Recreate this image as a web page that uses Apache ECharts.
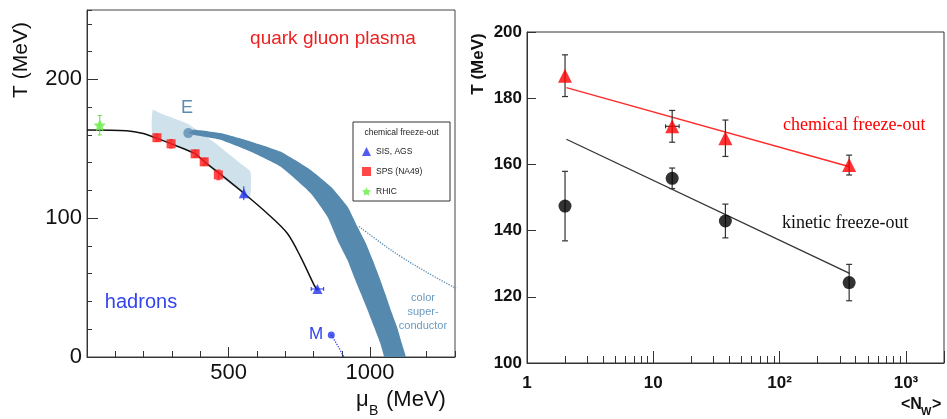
<!DOCTYPE html>
<html><head><meta charset="utf-8">
<script src="https://cdn.jsdelivr.net/npm/echarts@6/dist/echarts.min.js"></script>
<style>html,body{margin:0;padding:0;background:#fff}#c{width:947px;height:419px}</style>
</head><body><div id="c"></div>
<script>
// ---------- Left panel (phase diagram) ----------
const curveMu = [0,140,199,245,296,381,413,465,554,636,708,755,802,814];
const curveT  = [163.5,163,161,157.7,153.7,146.5,141,132.7,118,103.6,89,72,52,48];
const spsMu = [247,297,382,414,464];
const spsT  = [158,153.6,146.4,140.6,131.2];
const spsErr = [2.5,3,2.5,2.5,3.5];
const sisMu = [554,814];
const sisT  = [118,49];
const sisTErr = [5,1];
const sisMuErr = [0,22];
const rhicMu = [45];
const rhicT  = [167];
const rhicErr = [7];
const shadeMu = [232,258,352,447,541,577,577,554,465,381,296,232];
const shadeT  = [178,175.7,168.4,155,139.6,133.6,115.6,118,131,146,154,159];
const bandOuterMu = [358,375,471,577,683,790,861,920,955,985,1009,1032,1053,1073,1095,1112,1127,1140];
const bandOuterT  = [161.3,163.7,161.3,155.3,148,134.8,122.8,108.4,94,82,70,57.9,45.9,33.9,21.8,9.9,0,-8];
const bandInnerMu = [358,375,471,577,683,790,849,890,920,943,967,991,1014,1036,1050,1062];
const bandInnerT  = [161.3,160.1,156.5,148,137.2,118,101.2,82,69.9,57.9,45.9,33.9,21.8,9.9,0,-8];
const pointE = [358,161.3];
const pointM = [863,15.9];
const csMu = [961,1040,1109,1227,1304];
const csT  = [94,82,72.3,57.9,49.5];
const mLineMu = [863,884,908];
const mLineT  = [15.9,8.7,0];
const leftTLabels = [0,100,200];
const leftMuLabels = [500,1000];

// ---------- Right panel ----------
const nw = [2,14.1,37.2,355];
const chemT = [186.8,171.5,167.9,159.8];
const chemErr = [6.3,4.8,5.5,3];
const chemNwLo = [2,12.5,37.2,355];
const chemNwHi = [2,16,37.2,355];
const kinT = [147.4,155.8,142.9,124.3];
const kinErr = [10.5,3.1,5.1,5.5];
const fitN = [2.05,358];
const fitChemT = [183.2,159.3];
const fitKinT = [167.6,127.1];
const rightTicks = {1:'1',10:'10',100:'10²',1000:'10³'};
const logMinor = [2,3,4,5,6,7,8,9,20,30,40,50,60,70,80,90,200,300,400,500,600,700,800,900];

const FONT = 'Liberation Sans';
const pair = (a,b)=>a.map((v,i)=>[v,b[i]]);

function polyRender(xs, ys, color, smooth){
  return function(params, api){
    if (params.dataIndex !== 0) return null;
    const pts = xs.map((x,i)=>api.coord([x, ys[i]]));
    return {type:'polygon', shape:{points:pts, smooth:smooth||0}, style:{fill:color}};
  };
}
function vErr(color, cap, lw){
  return function(params, api){
    const x=api.value(0), lo=api.value(1), hi=api.value(2);
    const a=api.coord([x,lo]), b=api.coord([x,hi]);
    const st={stroke:color,lineWidth:lw};
    return {type:'group',children:[
      {type:'line',shape:{x1:a[0],y1:a[1],x2:b[0],y2:b[1]},style:st},
      {type:'line',shape:{x1:a[0]-cap,y1:a[1],x2:a[0]+cap,y2:a[1]},style:st},
      {type:'line',shape:{x1:b[0]-cap,y1:b[1],x2:b[0]+cap,y2:b[1]},style:st}
    ]};
  };
}
function hErr(color, cap, lw){
  return function(params, api){
    const lo=api.value(0), hi=api.value(1), y=api.value(2);
    if (lo===hi) return null;
    const a=api.coord([lo,y]), b=api.coord([hi,y]);
    const st={stroke:color,lineWidth:lw};
    return {type:'group',children:[
      {type:'line',shape:{x1:a[0],y1:a[1],x2:b[0],y2:b[1]},style:st},
      {type:'line',shape:{x1:a[0],y1:a[1]-cap,x2:a[0],y2:a[1]+cap},style:st},
      {type:'line',shape:{x1:b[0],y1:b[1]-cap,x2:b[0],y2:b[1]+cap},style:st}
    ]};
  };
}

const bandMu = bandOuterMu.concat(bandInnerMu.slice().reverse());
const bandT = bandOuterT.concat(bandInnerT.slice().reverse());
const starPath = 'path://M0,-10L2.9,-4L9.5,-3.1L4.8,1.5L5.9,8.1L0,5L-5.9,8.1L-4.8,1.5L-9.5,-3.1L-2.9,-4Z';

const chart = echarts.init(document.getElementById('c'));
const option = {
  animation:false,
  grid:[
    {left:87,top:10,width:368,height:347,show:true,borderColor:'#444',borderWidth:1},
    {left:527,top:32,right:0,bottom:56,show:true,borderColor:'#333',borderWidth:1}
  ],
  xAxis:[
    {gridIndex:0,type:'value',position:'bottom',min:0,max:1300,interval:100,
     axisLine:{lineStyle:{color:'#333'}},axisTick:{inside:true,length:6,lineStyle:{color:'#333'}},
     axisLabel:{formatter:v=>leftMuLabels.includes(v)?String(v):'',fontFamily:FONT,fontSize:22,color:'#111',margin:5},
     splitLine:{show:false}},
    {gridIndex:0,type:'value',position:'bottom',offset:0,min:0,max:1300,axisLine:{show:false},
     axisTick:{inside:true,length:10,customValues:leftMuLabels,lineStyle:{color:'#333'}},
     axisLabel:{show:false},splitLine:{show:false}},
    {gridIndex:1,type:'log',position:'bottom',logBase:10,min:1,max:2000,
     axisLine:{lineStyle:{color:'#333'}},axisTick:{inside:true,length:12,lineStyle:{color:'#333'}},
     axisLabel:{formatter:v=>rightTicks[Math.round(v)]||'',fontFamily:FONT,fontWeight:'bold',fontSize:17,color:'#111',margin:12},
     splitLine:{show:false},minorTick:{show:false}},
    {gridIndex:1,type:'log',position:'bottom',offset:0,logBase:10,min:1,max:2000,axisLine:{show:false},
     axisTick:{inside:true,length:7,customValues:logMinor,lineStyle:{color:'#333'}},
     axisLabel:{show:false},splitLine:{show:false}}
  ],
  yAxis:[
    {gridIndex:0,type:'value',position:'left',min:0,max:250,interval:20,
     axisLine:{lineStyle:{color:'#333'}},axisTick:{inside:true,length:5,lineStyle:{color:'#333'}},
     axisLabel:{formatter:v=>leftTLabels.includes(v)?String(v):'',fontFamily:FONT,fontSize:22,color:'#111',margin:5},
     splitLine:{show:false}},
    {gridIndex:0,type:'value',position:'left',offset:0,min:0,max:250,axisLine:{show:false},
     axisTick:{inside:true,length:11,customValues:[100,200],lineStyle:{color:'#333'}},
     axisLabel:{show:false},splitLine:{show:false}},
    {gridIndex:1,type:'value',position:'left',min:100,max:200,interval:20,
     axisLine:{lineStyle:{color:'#333'}},axisTick:{inside:true,length:9,lineStyle:{color:'#333'}},
     axisLabel:{fontFamily:FONT,fontWeight:'bold',fontSize:17,color:'#111',margin:5},
     splitLine:{show:false}}
  ],
  legend:{left:362,top:147,orient:'vertical',itemWidth:9,itemHeight:9,itemGap:11,padding:0,
    selectedMode:false,z:20,
    textStyle:{fontFamily:FONT,fontSize:8.5,color:'#222'},
    data:[{name:'SIS, AGS',icon:'triangle'},{name:'SPS (NA49)',icon:'rect'},{name:'RHIC',icon:starPath}]},
  graphic:[
    {type:'rect',shape:{x:353,y:122,width:97,height:79},style:{fill:'#fff',stroke:'#333',lineWidth:1},z:10},
    {type:'text',x:401.5,y:133,z:11,style:{text:'chemical freeze-out',font:'8.5px '+FONT,fill:'#222',textAlign:'center',textVerticalAlign:'middle'}},
    {type:'text',x:333,y:39,style:{text:'quark gluon plasma',font:'19px '+FONT,fill:'#ee2020',textAlign:'center',textVerticalAlign:'middle'}},
    {type:'text',x:141,y:302,style:{text:'hadrons',font:'20px '+FONT,fill:'#3344ee',textAlign:'center',textVerticalAlign:'middle'}},
    {type:'text',x:187,y:108,style:{text:'E',font:'18px '+FONT,fill:'#5b8db3',textAlign:'center',textVerticalAlign:'middle'}},
    {type:'text',x:316,y:334,style:{text:'M',font:'17px '+FONT,fill:'#3344ee',textAlign:'center',textVerticalAlign:'middle'}},
    {type:'text',x:423,y:298,style:{text:'color',font:'11px '+FONT,fill:'#6a9bc0',textAlign:'center',textVerticalAlign:'middle'}},
    {type:'text',x:423,y:312,style:{text:'super-',font:'11px '+FONT,fill:'#6a9bc0',textAlign:'center',textVerticalAlign:'middle'}},
    {type:'text',x:423,y:326,style:{text:'conductor',font:'11px '+FONT,fill:'#6a9bc0',textAlign:'center',textVerticalAlign:'middle'}},
    {type:'text',x:21,y:60,rotation:Math.PI/2,style:{text:'T (MeV)',font:'21px '+FONT,fill:'#111',textAlign:'center',textVerticalAlign:'middle'}},
    {type:'text',x:356,y:400,style:{text:'μ',font:'22px '+FONT,fill:'#111',textAlign:'left',textVerticalAlign:'middle'}},
    {type:'text',x:369,y:411,style:{text:'B',font:'14px '+FONT,fill:'#111',textAlign:'left',textVerticalAlign:'middle'}},
    {type:'text',x:386,y:400,style:{text:'(MeV)',font:'22px '+FONT,fill:'#111',textAlign:'left',textVerticalAlign:'middle'}},
    {type:'text',x:478,y:64,rotation:Math.PI/2,style:{text:'T (MeV)',font:'bold 17px '+FONT,fill:'#111',textAlign:'center',textVerticalAlign:'middle'}},
    {type:'text',x:783,y:125,style:{text:'chemical freeze-out',font:'18px Liberation Serif',fill:'#ff0000',textAlign:'left',textVerticalAlign:'middle'}},
    {type:'text',x:782,y:223,style:{text:'kinetic freeze-out',font:'18px Liberation Serif',fill:'#111',textAlign:'left',textVerticalAlign:'middle'}},
    {type:'text',x:901,y:405,style:{text:'<N',font:'bold 16px '+FONT,fill:'#111',textAlign:'left',textVerticalAlign:'middle'}},
    {type:'text',x:921,y:412,style:{text:'W',font:'bold 11px '+FONT,fill:'#111',textAlign:'left',textVerticalAlign:'middle'}},
    {type:'text',x:932,y:405,style:{text:'>',font:'bold 16px '+FONT,fill:'#111',textAlign:'left',textVerticalAlign:'middle'}}
  ],
  series:[
    {type:'custom',name:'shade',xAxisIndex:0,yAxisIndex:0,clip:true,z:1,
     renderItem:polyRender(shadeMu,shadeT,'#cfe1eb',0.15),data:pair(shadeMu,shadeT)},
    {type:'custom',name:'band',xAxisIndex:0,yAxisIndex:0,clip:true,z:2,
     renderItem:polyRender(bandMu,bandT,'#5589ad',0.15),data:pair(bandMu,bandT)},
    {type:'line',name:'cs',xAxisIndex:0,yAxisIndex:0,data:pair(csMu,csT),smooth:0.4,showSymbol:false,
     lineStyle:{color:'#5b8db3',width:1.3,type:'dotted'},z:3},
    {type:'line',name:'mline',xAxisIndex:0,yAxisIndex:0,data:pair(mLineMu,mLineT),smooth:0.4,showSymbol:false,
     lineStyle:{color:'#3344ee',width:1.3,type:'dotted'},z:3},
    {type:'scatter',name:'E',xAxisIndex:0,yAxisIndex:0,data:[pointE],symbol:'circle',symbolSize:10,itemStyle:{color:'#5b8db3'},z:4},
    {type:'scatter',name:'M',xAxisIndex:0,yAxisIndex:0,data:[pointM],symbol:'circle',symbolSize:7,itemStyle:{color:'#2233ee'},z:4},
    {type:'line',name:'curve',xAxisIndex:0,yAxisIndex:0,data:pair(curveMu,curveT),smooth:0.3,showSymbol:false,
     lineStyle:{color:'#111',width:1.5},z:5},
    {type:'custom',name:'spsErr',xAxisIndex:0,yAxisIndex:0,z:6,encode:{x:0,y:[1,2]},
     renderItem:vErr('#ff3030',2,1),data:spsMu.map((m,i)=>[m,spsT[i]-spsErr[i],spsT[i]+spsErr[i]])},
    {type:'custom',name:'sisErr',xAxisIndex:0,yAxisIndex:0,z:6,encode:{x:0,y:[1,2]},
     renderItem:vErr('#2233ee',0,1),data:sisMu.map((m,i)=>[m,sisT[i]-sisTErr[i],sisT[i]+sisTErr[i]])},
    {type:'custom',name:'sisMuErr',xAxisIndex:0,yAxisIndex:0,z:6,encode:{x:[0,1],y:2},
     renderItem:hErr('#2233ee',2,1),data:sisMu.map((m,i)=>[m-sisMuErr[i],m+sisMuErr[i],sisT[i]])},
    {type:'custom',name:'rhicErr',xAxisIndex:0,yAxisIndex:0,z:6,encode:{x:0,y:[1,2]},
     renderItem:vErr('#66dd44',2,1),data:rhicMu.map((m,i)=>[m,rhicT[i]-rhicErr[i],rhicT[i]+rhicErr[i]])},
    {type:'scatter',name:'SIS, AGS',xAxisIndex:0,yAxisIndex:0,data:pair(sisMu,sisT),symbol:'triangle',symbolSize:10,itemStyle:{color:'#2233ee'},z:7},
    {type:'scatter',name:'SPS (NA49)',xAxisIndex:0,yAxisIndex:0,data:pair(spsMu,spsT),symbol:'rect',symbolSize:9,itemStyle:{color:'#ff1a1a'},z:7},
    {type:'scatter',name:'RHIC',xAxisIndex:0,yAxisIndex:0,data:pair(rhicMu,rhicT),symbol:starPath,symbolSize:12,itemStyle:{color:'#66ee44'},z:7},

    // right panel
    {type:'line',name:'fitChem',xAxisIndex:2,yAxisIndex:2,data:pair(fitN,fitChemT),showSymbol:false,
     lineStyle:{color:'#ff2a2a',width:1.5},z:3},
    {type:'line',name:'fitKin',xAxisIndex:2,yAxisIndex:2,data:pair(fitN,fitKinT),showSymbol:false,
     lineStyle:{color:'#333',width:1.3},z:3},
    {type:'custom',name:'chemErr',xAxisIndex:2,yAxisIndex:2,z:4,encode:{x:0,y:[1,2]},
     renderItem:vErr('#333',3,1.2),data:nw.map((n,i)=>[n,chemT[i]-chemErr[i],chemT[i]+chemErr[i]])},
    {type:'custom',name:'chemNwErr',xAxisIndex:2,yAxisIndex:2,z:4,encode:{x:[0,1],y:2},
     renderItem:hErr('#333',2,1.2),data:nw.map((n,i)=>[chemNwLo[i],chemNwHi[i],chemT[i]])},
    {type:'custom',name:'kinErr',xAxisIndex:2,yAxisIndex:2,z:4,encode:{x:0,y:[1,2]},
     renderItem:vErr('#333',3,1.2),data:nw.map((n,i)=>[n,kinT[i]-kinErr[i],kinT[i]+kinErr[i]])},
    {type:'scatter',name:'chem',xAxisIndex:2,yAxisIndex:2,data:pair(nw,chemT),symbol:'triangle',symbolSize:14,itemStyle:{color:'#ff0000'},z:5},
    {type:'scatter',name:'kin',xAxisIndex:2,yAxisIndex:2,data:pair(nw,kinT),symbol:'circle',symbolSize:13,itemStyle:{color:'#000'},z:5}
  ]
};
chart.setOption(option);
</script>
</body></html>
